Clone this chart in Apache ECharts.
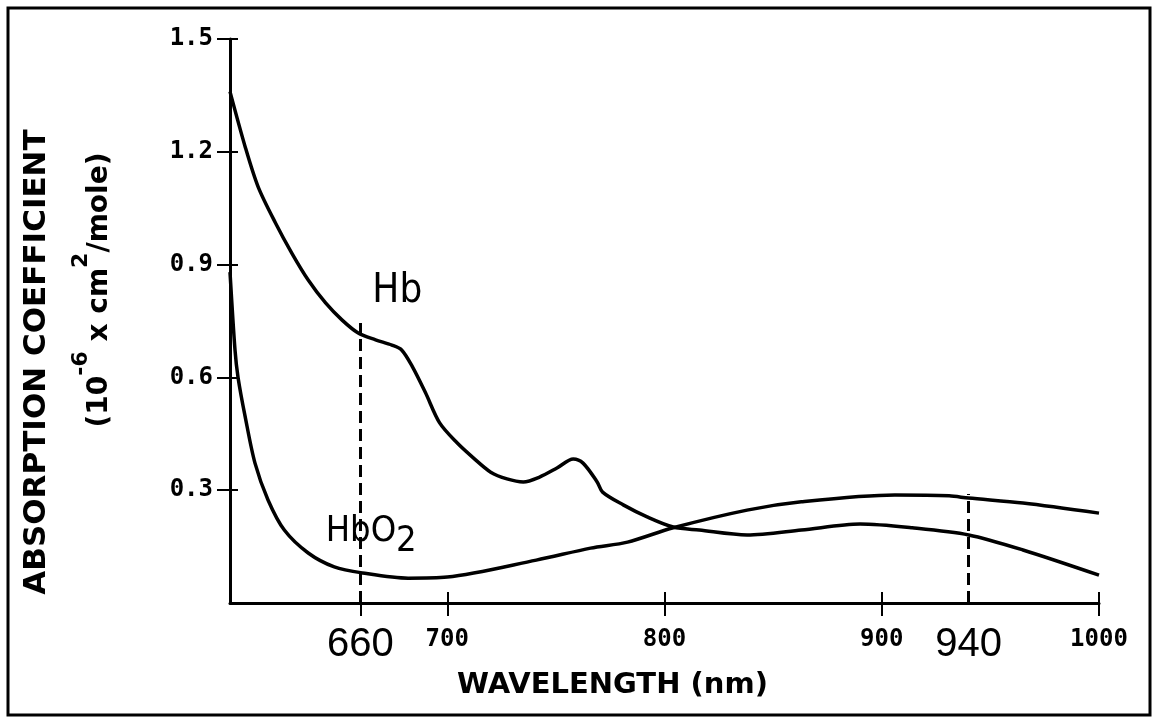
<!DOCTYPE html>
<html>
<head>
<meta charset="utf-8">
<style>
  html, body { margin: 0; padding: 0; background: #fff; }
  #main { width: 1158px; height: 723px; }
</style>
<script src="https://cdn.jsdelivr.net/npm/echarts@6/dist/echarts.min.js"></script>
</head>
<body>
<div id="main"></div>
<script>
// Hb (deoxyhemoglobin)
const hbWave = [600, 607, 613, 621, 628.5, 636, 644, 651.5, 659, 667, 674.5, 679, 684, 690, 696.5, 704.5, 712, 720, 727.5, 735, 742.5, 750.5, 758, 762.5, 769, 771.5, 781, 792, 804, 816, 838, 863, 890, 914, 940, 965, 1000];
const hbValue = [1.36, 1.213, 1.106, 1.01, 0.93, 0.859, 0.798, 0.753, 0.718, 0.70, 0.686, 0.673, 0.628, 0.559, 0.479, 0.426, 0.386, 0.348, 0.33, 0.322, 0.335, 0.359, 0.383, 0.372, 0.322, 0.295, 0.261, 0.229, 0.202, 0.194, 0.181, 0.194, 0.21, 0.20, 0.181, 0.141, 0.074];

// HbO2 (oxyhemoglobin)
const hbo2Wave = [600, 602.3, 603.7, 607, 611.5, 617.5, 625, 636, 648, 661, 682, 700, 741, 766, 783, 804, 838, 863, 906, 931, 940, 965, 1000];
const hbo2Value = [0.88, 0.673, 0.60, 0.495, 0.372, 0.274, 0.194, 0.133, 0.096, 0.08, 0.066, 0.069, 0.114, 0.146, 0.162, 0.20, 0.247, 0.269, 0.287, 0.285, 0.279, 0.266, 0.239];

// ticks / labels
const xTicksOut = [660, 700, 800, 900, 1000];
const xTicksIn = [700, 800, 900, 940, 1000];
const xLabels = [660, 700, 800, 900, 940, 1000];
const markedWaves = [660, 940];
const yTicks = [0.3, 0.6, 0.9, 1.2, 1.5];

// dashed marker heights
const dash660 = 0.745;
const dash940 = 0.29;

const ink = '#000';
const monoBold = { fontFamily: 'DejaVu Sans Mono', fontWeight: 'bold', color: ink };
const handFont = 'Liberation Sans Narrow, DejaVu Sans Condensed, Liberation Sans';

function pairs(xs, ys) {
  return xs.map((x, i) => [x, ys[i]]);
}

const chart = echarts.init(document.getElementById('main'), null, { renderer: 'canvas' });

const option = {
  backgroundColor: '#fff',
  animation: false,
  grid: { left: 230, right: 59, top: 39, bottom: 120 },
  graphic: [
    {
      type: 'rect',
      shape: { x: 8, y: 8, width: 1142, height: 707 },
      style: { fill: 'none', stroke: ink, lineWidth: 3 },
      silent: true,
    },
  ],
  xAxis: [
    {
      type: 'value',
      min: 600,
      max: 1000,
      position: 'bottom',
      name: 'WAVELENGTH (nm)',
      nameLocation: 'middle',
      nameGap: 68,
      nameTextStyle: {
        fontFamily: 'DejaVu Sans',
        fontWeight: 'bold',
        fontSize: 29,
        color: ink,
        padding: [0, 104, 0, 0],
      },
      axisLine: { lineStyle: { color: ink, width: 3 } },
      axisTick: { show: true, length: 13, customValues: xTicksOut, lineStyle: { color: ink, width: 2 } },
      splitLine: { show: false },
      axisLabel: {
        customValues: xLabels,
        margin: 22,
        formatter: (v) => (markedWaves.includes(v) ? '{big|' + v + '}' : '{small|' + v + '}'),
        rich: {
          big: { fontFamily: 'Liberation Sans', fontSize: 40, color: ink, lineHeight: 40 },
          small: Object.assign({ fontSize: 24, lineHeight: 40, padding: [0, 0, 10, 0] }, monoBold),
        },
      },
    },
    {
      type: 'value',
      min: 600,
      max: 1000,
      position: 'bottom',
      offset: 0,
      axisLine: { show: false },
      axisTick: { show: true, inside: true, length: 11, customValues: xTicksIn, lineStyle: { color: ink, width: 2 } },
      axisLabel: { show: false },
      splitLine: { show: false },
    },
  ],
  yAxis: [
    {
      type: 'value',
      min: 0,
      max: 1.5,
      interval: 0.3,
      position: 'left',
      name: 'ABSORPTION COEFFICIENT',
      nameLocation: 'middle',
      nameRotate: 90,
      nameGap: 178,
      nameTextStyle: {
        fontFamily: 'DejaVu Sans',
        fontWeight: 'bold',
        fontSize: 31,
        color: ink,
        padding: [0, 82, 0, 0],
      },
      axisLine: { show: true, lineStyle: { color: ink, width: 3 } },
      axisTick: { show: true, length: 13, customValues: yTicks, lineStyle: { color: ink, width: 2 } },
      splitLine: { show: false },
      axisLabel: Object.assign({
        fontSize: 24,
        margin: 17,
        formatter: (v) => (v === 0 ? '' : v.toFixed(1)),
      }, monoBold),
    },
    {
      type: 'value',
      min: 0,
      max: 1.5,
      interval: 0.3,
      position: 'left',
      offset: 0,
      name: '{t|(10}{sup|-6}{t| x cm}{sup|2}{t|/mole)}',
      nameLocation: 'middle',
      nameRotate: 90,
      nameGap: 116,
      nameTextStyle: {
        color: ink,
        padding: [0, 0, 0, 62],
        rich: {
          t: { fontFamily: 'DejaVu Sans', fontWeight: 'bold', fontSize: 28, color: ink, lineHeight: 44, verticalAlign: 'bottom' },
          sup: { fontFamily: 'DejaVu Sans', fontWeight: 'bold', fontSize: 22, color: ink, lineHeight: 44, verticalAlign: 'top' },
        },
      },
      axisLine: { show: false },
      axisTick: { show: true, inside: true, length: 8, customValues: yTicks, lineStyle: { color: ink, width: 2 } },
      axisLabel: { show: false },
      splitLine: { show: false },
    },
  ],
  series: [
    {
      name: 'Hb',
      type: 'line',
      data: pairs(hbWave, hbValue),
      smooth: 0.3,
      showSymbol: false,
      lineStyle: { color: ink, width: 3.5 },
      markLine: {
        silent: true,
        symbol: 'none',
        label: { show: false },
        lineStyle: { color: ink, width: 3, type: [12, 6] },
        data: [
          [{ coord: [660, 0] }, { coord: [660, dash660] }],
          [{ coord: [940, 0] }, { coord: [940, dash940] }],
        ],
      },
      markPoint: {
        symbol: 'circle',
        symbolSize: 0,
        silent: true,
        label: {
          show: true,
          position: 'inside',
          formatter: 'Hb',
          fontFamily: handFont,
          fontSize: 40,
          color: ink,
        },
        data: [{ coord: [677, 0.827] }],
      },
    },
    {
      name: 'HbO2',
      type: 'line',
      data: pairs(hbo2Wave, hbo2Value),
      smooth: 0.3,
      showSymbol: false,
      lineStyle: { color: ink, width: 3.5 },
      markPoint: {
        symbol: 'circle',
        symbolSize: 0,
        silent: true,
        label: {
          show: true,
          position: 'inside',
          formatter: '{a|HbO}{s|2}',
          rich: {
            a: { fontFamily: handFont, fontSize: 36, color: ink, lineHeight: 46, verticalAlign: 'top' },
            s: { fontFamily: handFont, fontSize: 36, color: ink, lineHeight: 46, verticalAlign: 'bottom' },
          },
        },
        data: [{ coord: [665, 0.176] }],
      },
    },
  ],
};

chart.setOption(option);
</script>
</body>
</html>
